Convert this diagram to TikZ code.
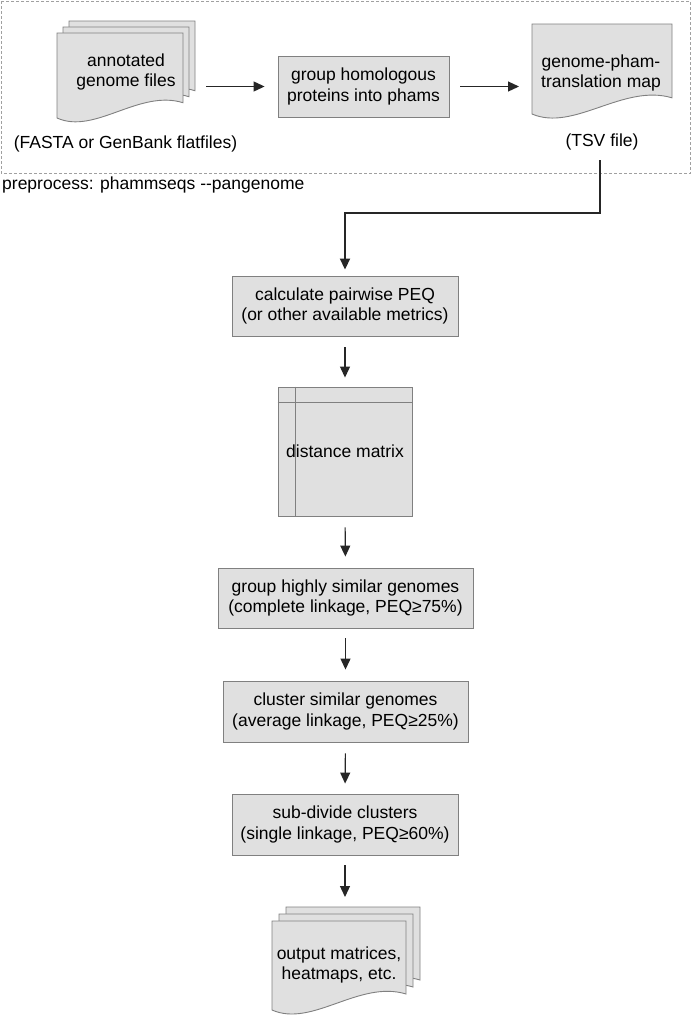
\documentclass[tikz,border=0pt]{standalone}
\usepackage{fontspec}
\setmainfont{Liberation Sans}
\usetikzlibrary{arrows.meta,calc}
\definecolor{boxfill}{HTML}{E0E0E0}
\definecolor{boxline}{HTML}{808080}
\definecolor{frameline}{HTML}{A0A0A0}
\newcommand{\fs}{\fontsize{17.5}{20.5}\selectfont}
\newcommand{\docshape}[4]{%
  \filldraw[docsty] (#1,#2) -- ({#1+#3},#2) -- ({#1+#3},{#2+0.82*#4})
    .. controls ({#1+0.65*#3},{#2+0.66*#4}) and ({#1+0.3*#3},{#2+1.2*#4}) .. (#1,{#2+#4}) -- cycle;}
\tikzset{
  box/.style={draw=boxline, fill=boxfill, line width=0.9pt, inner sep=0pt, align=center, font=\fs},
  docsty/.style={draw=boxline, fill=boxfill, line width=0.9pt},
  lbl/.style={inner sep=0pt, align=center, font=\fs},
  arr/.style={-{Triangle[length=11pt,width=10pt]}, line width=1.2pt, draw=black!85},
  frame/.style={draw=frameline, line width=0.8pt, dash pattern=on 3pt off 2pt},
}
\begin{document}
\begin{tikzpicture}[x=1pt,y=-1pt]
\useasboundingbox (0,0) rectangle (692,1018);
\fill[white] (0,0) rectangle (692,1018);
% preprocess frame
\draw[frame] (1,1) rectangle (690.5,173);
\node[lbl, anchor=west] (pre) at (2,185) {preprocess: phammseqs -{}-pangenome};
% annotated genome files (stack)
\docshape{69}{21}{126}{85}
\docshape{63}{27}{126}{85}
\docshape{57}{33}{126}{85}
\node[lbl] (gen) at (126,72) {annotated\\genome files};
\coordinate (genR) at (196,86.5);
\node[lbl] (fasta) at (125.5,144) {(FASTA or GenBank flatfiles)};
% phams
\node[box, minimum width=171pt, minimum height=61pt] (phams) at (363.5,86.5) {group homologous\\proteins into phams};
% translation map
\docshape{532}{24}{140}{90}
\node[lbl] (trans) at (601,73) {genome-pham-\\translation map};
\coordinate (transL) at (532,86.5);
\node[lbl] (tsv) at (602,142) {(TSV file)};
% main column
\node[box, minimum width=226pt, minimum height=60pt] (calc) at (345,306) {calculate pairwise PEQ\\(or other available metrics)};
\node[box, minimum width=134pt, minimum height=129pt] (dist) at (345,451.5) {distance matrix};
\draw[boxline, line width=0.9pt] ([yshift=-16pt]dist.north west) -- ([yshift=-16pt]dist.north east);
\draw[boxline, line width=0.9pt] ([xshift=18pt]dist.north west) -- ([xshift=18pt]dist.south west);
\node[box, minimum width=255pt, minimum height=60pt] (group) at (345.5,598) {group highly similar genomes\\(complete linkage, PEQ≥75\%)};
\node[box, minimum width=245pt, minimum height=61pt] (cluster) at (345.5,711.5) {cluster similar genomes\\(average linkage, PEQ≥25\%)};
\node[box, minimum width=226pt, minimum height=61pt] (subdiv) at (345,824.5) {sub-divide clusters\\(single linkage, PEQ≥60\%)};
% output stack
\docshape{286}{907}{134}{89}
\docshape{279}{914}{134}{89}
\docshape{272}{921}{134}{89}
\node[lbl] (out) at (339,965) {output matrices,\\heatmaps, etc.};
\coordinate (outT) at (345,907);
% connectors
\draw[arr, shorten <=10pt, shorten >=13pt] (genR) -- (phams.west);
\draw[arr, shorten <=11pt, shorten >=13pt] (phams.east) -- (transL);
\coordinate (turn) at (0,213);
\draw[arr, line width=1.8pt, shorten <=10pt, shorten >=6pt] ([xshift=-2pt]tsv.south) |- (calc.north |- turn) -- (calc.north);
\draw[arr, shorten <=11pt, shorten >=9pt] (calc.south) -- (dist.north);
\draw[arr, shorten <=11pt, shorten >=11pt] (dist.south) -- (group.north);
\draw[arr, shorten <=10pt, shorten >=11pt] (group.south) -- (cluster.north);
\draw[arr, shorten <=11pt, shorten >=10pt] (cluster.south) -- (subdiv.north);
\draw[arr, shorten <=10pt, shorten >=10pt] (subdiv.south) -- (outT);
\end{tikzpicture}
\end{document}
